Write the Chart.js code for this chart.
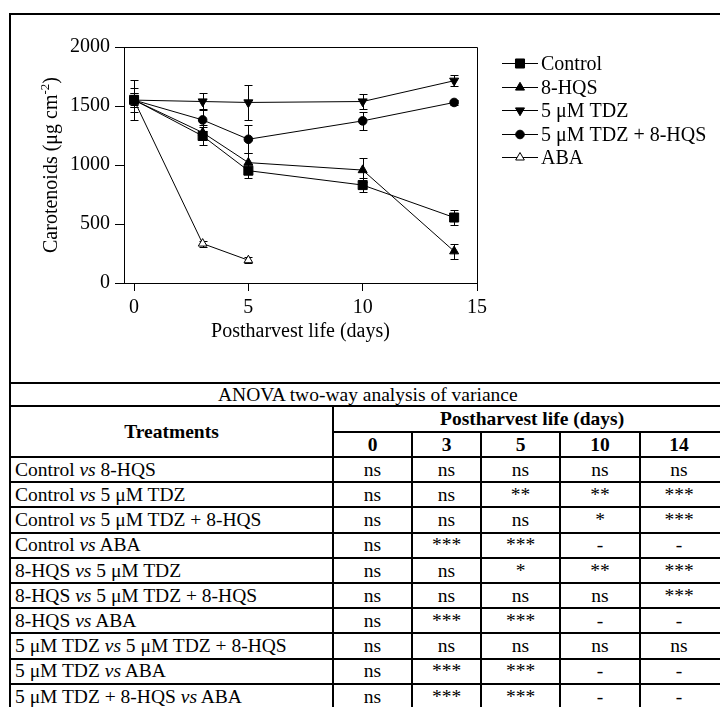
<!DOCTYPE html>
<html>
<head>
<meta charset="utf-8">
<script src="https://cdn.jsdelivr.net/npm/chart.js@4.4.1/dist/chart.umd.min.js"></script>
<style>
  html, body { margin: 0; width: 720px; height: 707px; overflow: hidden; background: #fff; }
  body { position: relative; color: #000;
         font-family: "Liberation Serif", Tinos, "Noto Serif", "DejaVu Serif", FreeSerif, "Nimbus Roman", "Times New Roman", Times, serif; }
  #frame { position: absolute; left: 9px; top: 13px; width: 760px; height: 760px;
           border: 2px solid #000; box-sizing: border-box; }
  #chart { position: absolute; left: 0; top: 0; }
  #anova { position: absolute; left: 9px; top: 382px; width: 760px; border-collapse: collapse;
           table-layout: fixed; font-size: 19.5px; }
  #anova td, #anova th { border: 2px solid #000; padding: 0; line-height: 1;
           text-align: center; vertical-align: middle; white-space: nowrap; overflow: hidden; }
  #anova td.name { text-align: left; padding-left: 4px; }
  #anova th { font-weight: bold; }
  #anova .last { text-align: left; }
  #anova .last span { display: inline-block; width: 76px; text-align: center; }
</style>
</head>
<body>
<div id="frame"></div>
<canvas id="chart" width="720" height="380"></canvas>
<table id="anova"></table>
<script>
(function () {
  'use strict';

  // --- données ---
  const days = [0, 3, 5, 10, 14];
  const xTicks = [0, 5, 10, 15];
  const yTicks = [0, 500, 1000, 1500, 2000];
  const seriesNames = ['Control', '8-HQS', '5 \u03bcM TDZ', '5 \u03bcM TDZ + 8-HQS', 'ABA'];

  const controlVals = [1552, 1246, 952, 830, 555];
  const controlErr  = [100, 76, 60, 57, 65];
  const hqsVals     = [1550, 1275, 1020, 957, 269];
  const hqsErr      = [170, 60, 80, 100, 65];
  const tdzVals     = [1550, 1538, 1530, 1538, 1714];
  const tdzErr      = [40, 75, 145, 60, 45];
  const tdzHqsVals  = [1550, 1382, 1218, 1374, 1530];
  const tdzHqsErr   = [60, 95, 120, 75, 20];
  const abaVals     = [1550, 334, 193, null, null];
  const abaErr      = [60, 25, 25, null, null];

  // tableau ANOVA
  const tableTitle = 'ANOVA two-way analysis of variance';
  const tableDays = ['0', '3', '5', '10', '14'];
  const comparisons = [
    ['Control', '8-HQS'],
    ['Control', '5 \u03bcM TDZ'],
    ['Control', '5 \u03bcM TDZ + 8-HQS'],
    ['Control', 'ABA'],
    ['8-HQS', '5 \u03bcM TDZ'],
    ['8-HQS', '5 \u03bcM TDZ + 8-HQS'],
    ['8-HQS', 'ABA'],
    ['5 \u03bcM TDZ', '5 \u03bcM TDZ + 8-HQS'],
    ['5 \u03bcM TDZ', 'ABA'],
    ['5 \u03bcM TDZ + 8-HQS', 'ABA']
  ];
  const significance = [
    ['ns', 'ns', 'ns', 'ns', 'ns'],
    ['ns', 'ns', '**', '**', '***'],
    ['ns', 'ns', 'ns', '*', '***'],
    ['ns', '***', '***', '-', '-'],
    ['ns', 'ns', '*', '**', '***'],
    ['ns', 'ns', 'ns', 'ns', '***'],
    ['ns', '***', '***', '-', '-'],
    ['ns', 'ns', 'ns', 'ns', 'ns'],
    ['ns', '***', '***', '-', '-'],
    ['ns', '***', '***', '-', '-']
  ];

  const FONT = '"Liberation Serif", Tinos, "Noto Serif", "DejaVu Serif", FreeSerif, "Nimbus Roman", "Times New Roman", Times, serif';

  function serie(label, vals, errs, style, rotation, fill, radius) {
    return {
      label: label,
      data: days.map((d, i) => ({ x: d, y: vals[i] })),
      errors: errs,
      borderColor: '#000',
      borderWidth: 1,
      pointStyle: style,
      pointRotation: rotation,
      pointRadius: radius,
      pointBackgroundColor: fill,
      pointBorderColor: '#000',
      pointBorderWidth: 1,
      tension: 0,
      spanGaps: false
    };
  }

  const datasets = [
    serie(seriesNames[0], controlVals, controlErr, 'rect', 0, '#000', 6.4),
    serie(seriesNames[1], hqsVals, hqsErr, 'triangle', 0, '#000', 5.2),
    serie(seriesNames[2], tdzVals, tdzErr, 'triangle', 180, '#000', 5.2),
    serie(seriesNames[3], tdzHqsVals, tdzHqsErr, 'circle', 0, '#000', 4.3),
    serie(seriesNames[4], abaVals, abaErr, 'triangle', 0, '#fff', 5)
  ];

  // barres d'erreur, sous les marqueurs
  const errorBars = {
    id: 'errorBars',
    beforeDatasetsDraw(chart) {
      const ctx = chart.ctx, ys = chart.scales.y;
      ctx.save();
      ctx.strokeStyle = '#000';
      ctx.lineWidth = 1;
      chart.data.datasets.forEach((ds, di) => {
        const meta = chart.getDatasetMeta(di);
        meta.data.forEach((pt, i) => {
          const v = ds.data[i].y, e = ds.errors[i];
          if (v == null || e == null) return;
          const x = Math.round(pt.x) + 0.5;
          const top = Math.round(ys.getPixelForValue(v + e)) + 0.5;
          const bot = Math.round(ys.getPixelForValue(v - e)) + 0.5;
          ctx.beginPath();
          ctx.moveTo(x, top); ctx.lineTo(x, bot);
          ctx.moveTo(x - 4, top); ctx.lineTo(x + 4, top);
          ctx.moveTo(x - 4, bot); ctx.lineTo(x + 4, bot);
          ctx.stroke();
        });
      });
      ctx.restore();
    }
  };

  // cadre, titres d'axes et légende
  const decor = {
    id: 'decor',
    afterDraw(chart) {
      const ctx = chart.ctx, a = chart.chartArea;
      ctx.save();
      ctx.strokeStyle = '#000';
      ctx.lineWidth = 1;
      ctx.beginPath();
      ctx.moveTo(Math.round(a.left), Math.round(a.top) + 0.5);
      ctx.lineTo(Math.round(a.right) + 0.5, Math.round(a.top) + 0.5);
      ctx.lineTo(Math.round(a.right) + 0.5, Math.round(a.bottom));
      ctx.stroke();

      ctx.fillStyle = '#000';
      ctx.textBaseline = 'alphabetic';

      // titre X
      ctx.font = '20px ' + FONT;
      ctx.textAlign = 'center';
      ctx.fillText('Postharvest life (days)', (a.left + a.right) / 2, 337);

      // titre Y avec exposant
      const main = 'Carotenoids (\u03bcg cm', sup = '-2', end = ')';
      ctx.font = '20px ' + FONT;
      const w1 = ctx.measureText(main).width, w3 = ctx.measureText(end).width;
      ctx.font = '13px ' + FONT;
      const w2 = ctx.measureText(sup).width;
      ctx.translate(57, (a.top + a.bottom) / 2);
      ctx.rotate(-Math.PI / 2);
      ctx.textAlign = 'left';
      const x0 = -(w1 + w2 + w3) / 2;
      ctx.font = '20px ' + FONT;
      ctx.fillText(main, x0, 0);
      ctx.font = '13px ' + FONT;
      ctx.fillText(sup, x0 + w1, -8);
      ctx.font = '20px ' + FONT;
      ctx.fillText(end, x0 + w1 + w2, 0);
      ctx.restore();

      // légende
      ctx.save();
      ctx.strokeStyle = '#000';
      ctx.lineWidth = 1;
      ctx.font = '20px ' + FONT;
      ctx.textAlign = 'left';
      ctx.textBaseline = 'middle';
      chart.data.datasets.forEach((ds, i) => {
        const y = Math.round(63 + i * 23.5) + 0.5;
        ctx.beginPath();
        ctx.moveTo(502, y); ctx.lineTo(538, y);
        ctx.stroke();
        ctx.fillStyle = ds.pointBackgroundColor;
        Chart.helpers.drawPoint(ctx, {
          pointStyle: ds.pointStyle, rotation: ds.pointRotation,
          radius: ds.pointRadius, borderWidth: 1
        }, 520, y);
        ctx.fillStyle = '#000';
        ctx.fillText(ds.label, 541, y + 1);
      });
      ctx.restore();
    }
  };

  new Chart(document.getElementById('chart'), {
    type: 'line',
    data: { datasets: datasets },
    options: {
      responsive: false,
      animation: false,
      layout: { padding: { left: 0, top: 47, right: 243, bottom: 0 } },
      plugins: { legend: { display: false }, tooltip: { enabled: false } },
      scales: {
        x: {
          type: 'linear',
          min: -0.44,
          max: 15,
          afterBuildTicks: (s) => { s.ticks = xTicks.map(v => ({ value: v })); },
          afterFit: (s) => { s.height = 97; },
          ticks: { color: '#000', font: { family: FONT, size: 20 }, padding: 5, maxRotation: 0,
                   callback: (v) => String(v) },
          grid: { drawOnChartArea: false, drawTicks: true, tickLength: 8, color: '#000' },
          border: { display: true, color: '#000', width: 1 }
        },
        y: {
          min: 0,
          max: 2000,
          afterBuildTicks: (s) => { s.ticks = yTicks.map(v => ({ value: v })); },
          afterFit: (s) => { s.width = 124; },
          ticks: { color: '#000', font: { family: FONT, size: 20 }, padding: 5,
                   callback: (v) => String(v) },
          grid: { drawOnChartArea: false, drawTicks: true, tickLength: 9, color: '#000' },
          border: { display: true, color: '#000', width: 1 }
        }
      }
    },
    plugins: [errorBars, decor]
  });

  // construction du tableau
  const table = document.getElementById('anova');
  const colWidths = [323, 79, 69, 79, 80, 130];
  const cell = (tag, txt, j) => j === 4
    ? `<${tag} class="last"><span>${txt}</span></${tag}>`
    : `<${tag}>${txt}</${tag}>`;
  let html = '<colgroup>' + colWidths.map(w => `<col style="width:${w}px">`).join('') + '</colgroup>';
  html += `<tr style="height:23px"><td colspan="6" style="text-align:left;padding-left:207px">${tableTitle}</td></tr>`;
  html += '<tr style="height:26px"><th rowspan="2">Treatments</th><th colspan="5" style="text-align:left;padding-left:106px">Postharvest life (days)</th></tr>';
  html += '<tr style="height:25px">' + tableDays.map((d, j) => cell('th', d, j)).join('') + '</tr>';
  comparisons.forEach((c, i) => {
    html += '<tr style="height:25.2px"><td class="name">' + c[0] + ' <i>vs</i> ' + c[1] + '</td>' +
      significance[i].map((s, j) => cell('td', s, j)).join('') + '</tr>';
  });
  table.innerHTML = html;
})();
</script>
</body>
</html>
